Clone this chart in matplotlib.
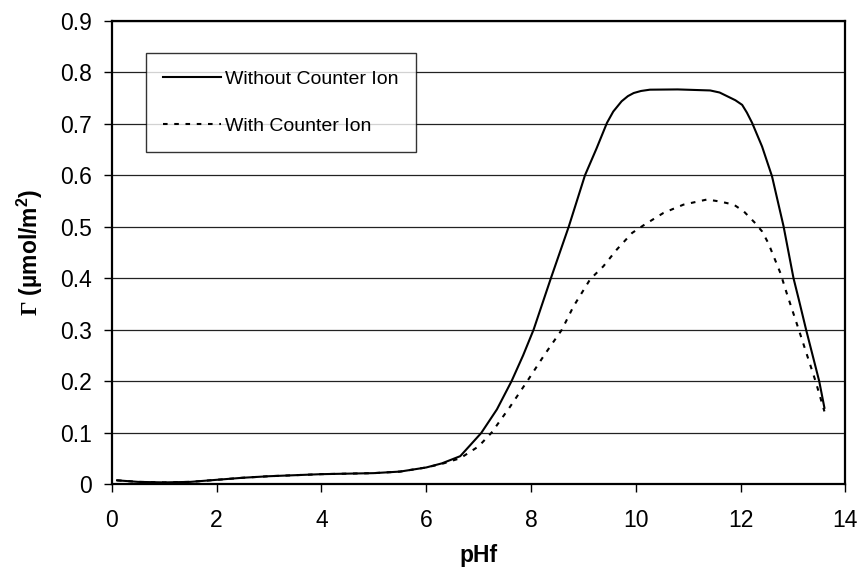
import matplotlib
matplotlib.use("Agg")
import matplotlib.pyplot as plt

# ---- data ----
solid_x = [0.1, 0.5, 1.0, 1.5, 2.0, 2.5, 3.0, 3.5, 4.0, 4.5, 5.0, 5.5, 6.0, 6.3, 6.65,
           7.05, 7.35, 7.63, 7.85, 8.05, 8.38, 8.72, 9.03, 9.25, 9.45, 9.57, 9.73, 9.85,
           9.96, 10.1, 10.27, 10.8, 11.42, 11.6, 11.74, 11.9, 12.03, 12.12, 12.22, 12.41,
           12.6, 12.82, 13.01, 13.11, 13.25, 13.5, 13.6]
solid_y = [0.007, 0.004, 0.003, 0.004, 0.008, 0.012, 0.015, 0.017, 0.019, 0.020, 0.021,
           0.024, 0.032, 0.040, 0.054, 0.099, 0.145, 0.200, 0.250, 0.300, 0.400, 0.500,
           0.600, 0.652, 0.702, 0.724, 0.744, 0.754, 0.760, 0.764, 0.7665, 0.767, 0.765,
           0.761, 0.754, 0.746, 0.737, 0.722, 0.702, 0.656, 0.598, 0.501, 0.400, 0.359,
           0.300, 0.200, 0.148]

dashed_x = [0.1, 0.5, 1.0, 1.5, 2.0, 2.5, 3.0, 3.5, 4.0, 4.5, 5.0, 5.5, 6.0, 6.3, 6.65,
            7.0, 7.25, 7.6, 7.93, 8.25, 8.59, 8.81, 9.13, 9.38, 9.64, 9.93, 10.15, 10.53,
            10.91, 11.36, 11.61, 11.87, 12.06, 12.28, 12.41, 12.53, 12.76, 12.88, 13.11,
            13.43, 13.6]
dashed_y = [0.007, 0.004, 0.003, 0.004, 0.008, 0.012, 0.015, 0.017, 0.019, 0.020, 0.021,
            0.024, 0.032, 0.039, 0.050, 0.073, 0.100, 0.150, 0.200, 0.250, 0.300, 0.345,
            0.398, 0.423, 0.456, 0.488, 0.503, 0.527, 0.543, 0.553, 0.549, 0.543, 0.530,
            0.507, 0.491, 0.468, 0.410, 0.371, 0.300, 0.200, 0.141]

series_labels = ["Without Counter Ion", "With Counter Ion"]
x_ticks = [0, 2, 4, 6, 8, 10, 12, 14]
y_ticks = [0, 0.1, 0.2, 0.3, 0.4, 0.5, 0.6, 0.7, 0.8, 0.9]
y_tick_labels = ["0", "0.1", "0.2", "0.3", "0.4", "0.5", "0.6", "0.7", "0.8", "0.9"]

plt.rcParams['font.family'] = ['Liberation Sans', 'DejaVu Sans']
plt.rcParams['mathtext.fontset'] = 'custom'
plt.rcParams['mathtext.rm'] = 'Liberation Sans:bold'
plt.rcParams['mathtext.bf'] = 'Liberation Sans:bold'
plt.rcParams['mathtext.it'] = 'Liberation Sans:bold'
plt.rcParams['mathtext.cal'] = 'Liberation Serif:bold'

fig = plt.figure(figsize=(8.6, 5.68), dpi=100)
ax = fig.add_axes([0.130, 0.148, 0.853, 0.815])

ax.plot(solid_x, solid_y, color='black', lw=1.5, label=series_labels[0])
ax.plot(dashed_x, dashed_y, color='black', lw=1.5, dashes=(2.2, 3.2), label=series_labels[1])

ax.set_xlim(0, 14)
ax.set_ylim(0, 0.9)
ax.set_xticks(x_ticks)
ax.set_yticks(y_ticks)
ax.set_yticklabels(y_tick_labels)
ax.yaxis.grid(True, color='#222222', lw=0.9)
ax.set_axisbelow(True)

for s in ax.spines.values():
    s.set_linewidth(1.6)
    s.set_color('black')

ax.tick_params(axis='both', direction='out', length=6, width=1.0, labelsize=16.5, colors='black')
ax.tick_params(axis='x', pad=12)
ax.tick_params(axis='y', pad=8)

ax.set_xlabel("pHf", fontsize=16.5, fontweight='bold', labelpad=9)
ax.set_ylabel(r"$\mathcal{Γ}$ (µmol/m$^{2}$)", fontsize=16.5, fontweight='bold', labelpad=11)

leg = ax.legend(loc='upper left', bbox_to_anchor=(0.046, 0.931), borderaxespad=0,
                fontsize=14, frameon=True, fancybox=False, handlelength=3.0,
                handletextpad=0.2, labelspacing=1.5, borderpad=0.9)
leg.get_frame().set_edgecolor('black')
leg.get_frame().set_linewidth(1.0)

fig.savefig("out.png", dpi=100)
